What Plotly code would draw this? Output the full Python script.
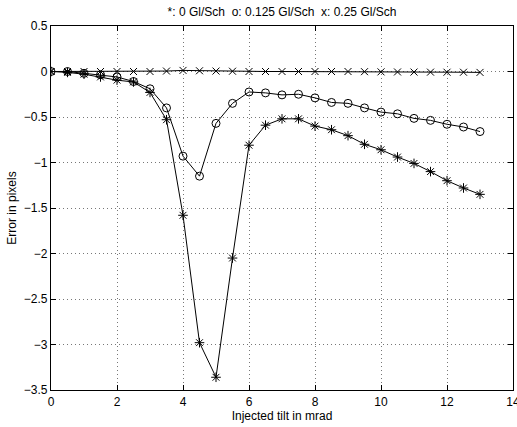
import plotly.graph_objects as go

x_vals = [0, 0.5, 1, 1.5, 2, 2.5, 3, 3.5, 4, 4.5, 5, 5.5, 6, 6.5, 7, 7.5, 8, 8.5, 9, 9.5, 10, 10.5, 11, 11.5, 12, 12.5, 13]

err_0 = [0, -0.01, -0.03, -0.06, -0.095, -0.115, -0.23, -0.53, -1.58, -2.98, -3.36, -2.05, -0.81, -0.59,
         -0.52, -0.52, -0.6, -0.64, -0.705, -0.8, -0.86, -0.94, -1.01, -1.1, -1.2, -1.28, -1.35]
err_0125 = [0, 0, -0.02, -0.036, -0.06, -0.11, -0.19, -0.4, -0.93, -1.15, -0.57, -0.35, -0.225, -0.235,
            -0.257, -0.25, -0.29, -0.34, -0.35, -0.4, -0.446, -0.465, -0.515, -0.537, -0.58, -0.61, -0.66]
err_025 = [0, 0, 0, 0, 0, 0, 0, 0.005, 0.012, 0.008, 0.005, 0.003, 0, 0,
           0, 0, 0, 0, 0, -0.002, -0.004, -0.005, -0.006, -0.007, -0.008, -0.008, -0.01]

title_text = "*: 0 Gl/Sch  o: 0.125 Gl/Sch  x: 0.25 Gl/Sch"
x_ticks = list(range(0, 15, 2))
y_ticks = [0.5, 0, -0.5, -1, -1.5, -2, -2.5, -3, -3.5]

FONT = "Liberation Sans, Arial"

fig = go.Figure()
series = [(err_025, "x-thin-open", 7), (err_0125, "circle-open", 8), (err_0, "asterisk-open", 8)]
for ys, sym, sz in series:
    fig.add_trace(go.Scatter(
        x=x_vals, y=ys, mode="lines+markers",
        line=dict(color="black", width=1),
        marker=dict(symbol=sym, size=sz, color="black", line=dict(color="black", width=1)),
        showlegend=False,
    ))

axis_common = dict(
    showline=True, linecolor="black", linewidth=1.3, mirror="ticks",
    ticks="inside", ticklen=5, tickcolor="black",
    showgrid=True, gridcolor="#777", griddash="1px,3px", gridwidth=1,
    zeroline=False, ticklabeloverflow="allow", automargin=False,
    tickfont=dict(family=FONT, size=12, color="black"),
)

fig.update_layout(
    width=517, height=427,
    margin=dict(l=51, r=4, t=26, b=37),
    paper_bgcolor="white", plot_bgcolor="white",
    title=dict(text=title_text, x=0.5, xref="paper", xanchor="center", y=0.972, yanchor="middle",
               font=dict(family=FONT, size=12, color="black")),
    xaxis=dict(range=[0, 14], tickvals=x_ticks, ticktext=[str(t) for t in x_ticks],
               title=dict(text="Injected tilt in mrad", standoff=0,
                          font=dict(family=FONT, size=12, color="black")),
               **axis_common),
    yaxis=dict(range=[-3.5, 0.5], tickvals=y_ticks,
               title=dict(text="Error in pixels", standoff=4,
                          font=dict(family=FONT, size=12, color="black")),
               **axis_common),
)

fig.write_html("out.html")
